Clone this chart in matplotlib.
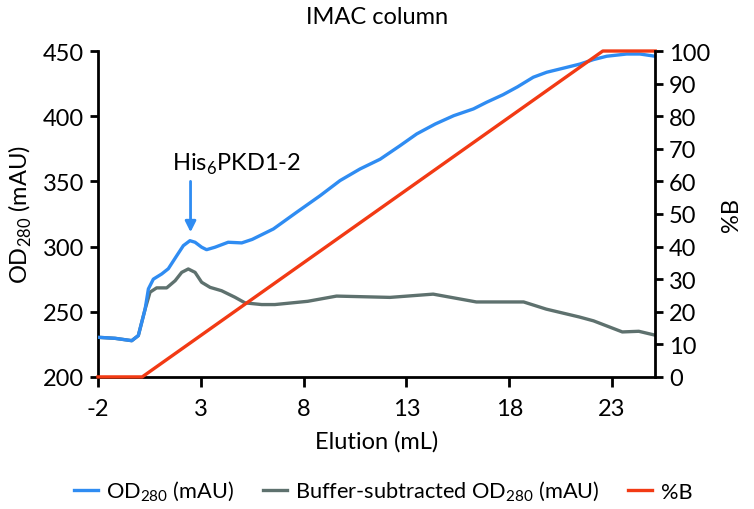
import matplotlib.pyplot as plt

plt.rcParams['font.family'] = ['Lato', 'DejaVu Sans']
plt.rcParams['mathtext.fontset'] = 'custom'
plt.rcParams['mathtext.rm'] = 'Lato'
plt.rcParams['axes.unicode_minus'] = False

# OD280 trace (mL, mAU)
od_x = [-2.0, -1.17, -0.36, -0.04, 0.29, 0.45, 0.69, 1.1, 1.42, 1.83, 2.15, 2.47, 2.72,
        3.04, 3.28, 3.69, 4.33, 4.99, 5.5, 6.53, 7.66, 8.8, 9.77, 10.74, 11.72, 12.69,
        13.5, 14.4, 15.3, 16.26, 16.9, 17.7, 18.4, 19.17, 19.82, 20.8, 21.44, 22.09,
        22.74, 23.71, 24.36, 25.09]
od_y = [230.4, 229.6, 227.8, 231.7, 252, 267.5, 275, 279, 283, 293, 300.7, 304.5, 303.3,
        299.5, 297.6, 299.5, 303.3, 302.8, 305.5, 313.5, 326.3, 339, 350.6, 359.5, 367, 377.4,
        386.4, 394, 400.4, 405.6, 410.7, 416.5, 422.5, 429.9, 433.7, 437.5, 440, 443.4,
        446, 447.7, 447.7, 446]

# buffer-subtracted OD280
bs_x = [-2.0, -1.17, -0.36, -0.04, 0.29, 0.53, 0.85, 1.34, 1.75, 2.07, 2.39, 2.72, 3.04,
        3.45, 4.01, 4.66, 5.15, 5.96, 6.6, 8.2, 9.6, 12.2, 14.3, 16.4, 18.7, 19.8, 21.4,
        22.1, 23.5, 24.3, 25.1]
bs_y = [230.4, 229.6, 227.8, 231.7, 252, 265, 268.3, 268.3, 273.8, 280.2, 282.8, 280.2, 272.6,
        268.7, 266.1, 261.1, 256.8, 255.5, 255.5, 258, 262, 261, 263.5, 257.5, 257.5, 252, 246,
        243, 234.5, 235, 232]

# gradient %B
b_x = [-2.0, 0.15, 22.55, 25.1]
b_y = [0, 0, 100, 100]

blue = '#2f8cf2'
gray = '#5e716e'
red = '#f23a14'
fs = 17

fig = plt.figure(figsize=(7.54, 5.10), dpi=100)
ax = fig.add_axes([0.130, 0.259, 0.739, 0.639])
ax2 = ax.twinx()

l1, = ax.plot(od_x, od_y, color=blue, lw=2.4, label='OD$_{280}$ (mAU)', zorder=3)
l2, = ax.plot(bs_x, bs_y, color=gray, lw=2.4, label='Buffer-subtracted OD$_{280}$ (mAU)', zorder=2)
l3, = ax2.plot(b_x, b_y, color=red, lw=2.4, label='%B', clip_on=False)

ax.set_xlim(-2, 25.1)
ax.set_ylim(200, 450)
ax2.set_ylim(0, 100)
ax.set_xticks([-2, 3, 8, 13, 18, 23])
ax.set_yticks([200, 250, 300, 350, 400, 450])
ax2.set_yticks(range(0, 101, 10))

for a in (ax, ax2):
    a.spines['top'].set_visible(False)
    for s in ('left', 'right', 'bottom'):
        a.spines[s].set_linewidth(2)
    a.tick_params(width=2, length=6, labelsize=fs, pad=4)
ax.tick_params(axis='x', length=7, pad=8)
ax.spines['right'].set_visible(False)
ax2.spines['left'].set_visible(False)
ax2.spines['bottom'].set_visible(False)

ax.set_xlabel('Elution (mL)', fontsize=fs, labelpad=8)
ax.set_ylabel('OD$_{280}$ (mAU)', fontsize=fs, labelpad=6)
ax2.set_ylabel('%B', fontsize=fs, labelpad=8)
ax.set_title('IMAC column', fontsize=fs, pad=20)

ax.annotate('', xy=(2.5, 311), xytext=(2.5, 350),
            arrowprops=dict(arrowstyle='-|>', color=blue, lw=2, shrinkA=0, shrinkB=0,
                            mutation_scale=16))
ax.text(1.6, 364, 'His$_6$PKD1-2', ha='left', va='center', fontsize=fs)

fig.legend(handles=[l1, l2, l3], loc='center', bbox_to_anchor=(0.508, 0.035), ncol=3,
           frameon=False, fontsize=15.7, handlelength=1.1, columnspacing=1.3, handletextpad=0.4)

fig.savefig('out.png', dpi=100)
